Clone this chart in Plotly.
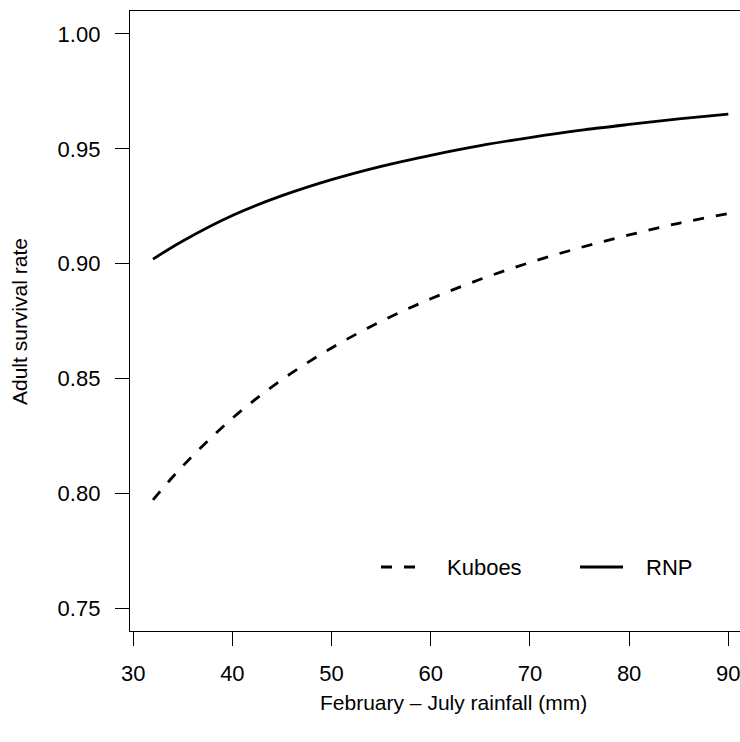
import plotly.graph_objects as go

rainfall = [32, 35, 40, 45, 50, 55, 60, 65, 70, 75, 80, 85, 90]
kuboes = [0.7972, 0.8119, 0.8327, 0.8495, 0.8633, 0.8749, 0.8847, 0.8932, 0.9005, 0.9069, 0.9125, 0.9176, 0.9218]
rnp = [0.9020, 0.9099, 0.9210, 0.9296, 0.9366, 0.9424, 0.9472, 0.9514, 0.9549, 0.9580, 0.9606, 0.9630, 0.9651]

x_ticks = [30, 40, 50, 60, 70, 80, 90]
y_ticks = [0.75, 0.80, 0.85, 0.90, 0.95, 1.00]
y_tick_labels = ["0.75", "0.80", "0.85", "0.90", "0.95", "1.00"]

FONT = "Liberation Sans, Arial, Helvetica, sans-serif"
FS = 22
FS_TITLE = 21

W, H = 740, 742
# targets in screen px: plot left 130, top 11, right 740, bottom 631
L, T, R = 130, 11, 0
B = H - 631
pw, ph = W - L - R, H - T - B

def px_x(p):
    return (p - L) / pw

def px_y(p):
    return (H - B - p) / ph

fig = go.Figure()
fig.add_trace(go.Scatter(x=rainfall, y=kuboes, mode="lines", name="Kuboes",
                         line=dict(color="black", width=2.8, dash="11px,12px", shape="spline"),
                         showlegend=False, hoverinfo="skip"))
fig.add_trace(go.Scatter(x=rainfall, y=rnp, mode="lines", name="RNP",
                         line=dict(color="black", width=2.8, shape="spline"),
                         showlegend=False, hoverinfo="skip"))

# manual legend (R-style)
leg_y = px_y(567)
fig.add_shape(type="line", xref="paper", yref="paper", x0=px_x(381), x1=px_x(424),
              y0=leg_y, y1=leg_y, line=dict(color="black", width=2.8, dash="11px,12px"))
fig.add_shape(type="line", xref="paper", yref="paper", x0=px_x(580), x1=px_x(623),
              y0=leg_y, y1=leg_y, line=dict(color="black", width=2.8))
fig.add_annotation(text="Kuboes", xref="paper", yref="paper", x=px_x(445), y=leg_y,
                   xanchor="left", yanchor="middle", showarrow=False,
                   font=dict(family=FONT, size=FS, color="black"))
fig.add_annotation(text="RNP", xref="paper", yref="paper", x=px_x(644), y=leg_y,
                   xanchor="left", yanchor="middle", showarrow=False,
                   font=dict(family=FONT, size=FS, color="black"))

# axis titles
fig.add_annotation(text="February \u2013 July rainfall (mm)", xref="paper", yref="paper",
                   x=px_x(453), y=px_y(702), xanchor="center", yanchor="middle",
                   showarrow=False, font=dict(family=FONT, size=FS_TITLE, color="black"))
fig.add_annotation(text="Adult survival rate", xref="paper", yref="paper",
                   x=px_x(19), y=px_y(321), xanchor="center", yanchor="middle",
                   textangle=-90, showarrow=False, font=dict(family=FONT, size=FS_TITLE, color="black"))

fig.update_layout(
    width=W, height=H,
    margin=dict(l=L, r=R, t=T, b=B, pad=0),
    paper_bgcolor="white", plot_bgcolor="white",
    font=dict(family=FONT, size=FS, color="black"),
    hovermode=False,
    xaxis=dict(range=[29.68, 91.18], tickvals=x_ticks, ticks="outside", ticklen=14,
               tickwidth=1.3, tickcolor="black", showline=True, linecolor="black",
               linewidth=1.3, mirror=True, showgrid=False, zeroline=False,
               ticklabeloverflow="allow",
               ticklabelstandoff=8, tickfont=dict(family=FONT, size=FS, color="black")),
    yaxis=dict(range=[0.7401, 1.0100], tickvals=y_ticks, ticktext=y_tick_labels,
               ticks="outside", ticklen=14, tickwidth=1.3, tickcolor="black",
               showline=True, linecolor="black", linewidth=1.3, mirror=False,
               showgrid=False, zeroline=False, ticklabelstandoff=10,
               tickfont=dict(family=FONT, size=FS, color="black")),
)

fig.write_html(
    "out.html",
    config={"displayModeBar": False},
    post_script="document.body.style.margin='0';document.body.style.overflow='hidden';",
)
